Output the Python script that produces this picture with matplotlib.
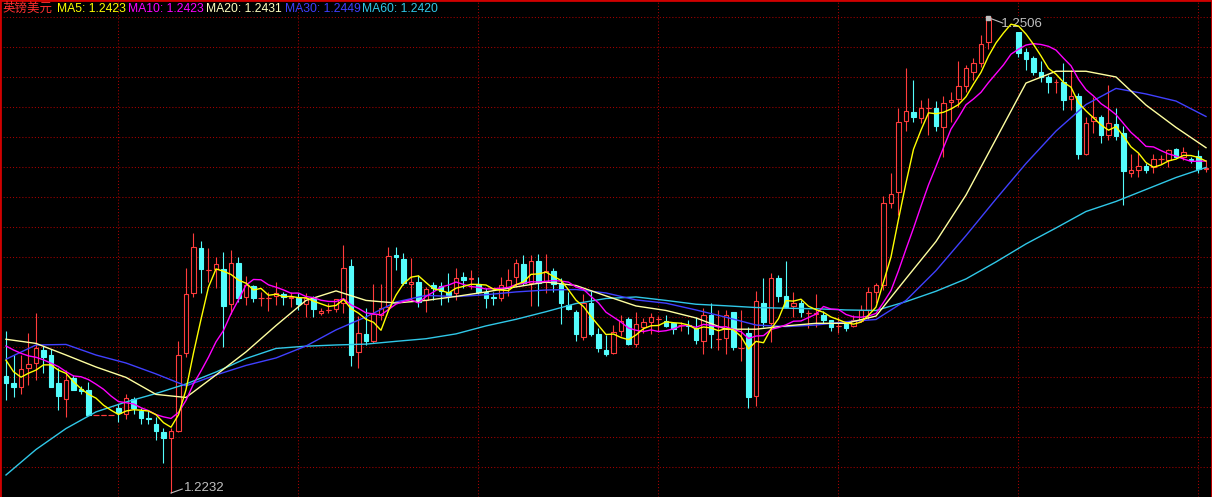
import numpy as np
import pandas as pd
import matplotlib
matplotlib.use('Agg')
import matplotlib.pyplot as plt

# daily GBP/USD candles
opens = [1.22995, 1.22953, 1.22934, 1.23043, 1.23069, 1.23145, 1.23116, 1.22957, 1.22864, 1.22985,
         1.22920, 1.22915, 1.22770, 1.22770, 1.22770, 1.22809, 1.22774, 1.22863, 1.22793, 1.22755,
         1.22718, 1.22674, 1.22636, 1.22680, 1.23126, 1.23472, 1.23732, 1.23607, 1.23611, 1.23612,
         1.23409, 1.23645, 1.23449, 1.23516, 1.23447, 1.23447, 1.23458, 1.23468, 1.23447, 1.23443,
         1.23411, 1.23439, 1.23360, 1.23376, 1.23380, 1.23415, 1.23630, 1.23135, 1.23238, 1.23199,
         1.23347, 1.23392, 1.23693, 1.23668, 1.23526, 1.23539, 1.23434, 1.23520, 1.23516, 1.23478,
         1.23472, 1.23565, 1.23555, 1.23524, 1.23481, 1.23453, 1.23447, 1.23507, 1.23565, 1.23640,
         1.23533, 1.23659, 1.23539, 1.23601, 1.23524, 1.23405, 1.23366, 1.23219, 1.23415, 1.23238,
         1.23145, 1.23126, 1.23257, 1.23324, 1.23178, 1.23280, 1.23308, 1.23322, 1.23313, 1.23303,
         1.23289, 1.23291, 1.23270, 1.23199, 1.23347, 1.23209, 1.23216, 1.23363, 1.23159, 1.23242,
         1.22882, 1.23415, 1.23299, 1.23559, 1.23457, 1.23401, 1.23418, 1.23357, 1.23353, 1.23347,
         1.23318, 1.23285, 1.23299, 1.23285, 1.23314, 1.23376, 1.23481, 1.23520, 1.23995, 1.24058,
         1.24468, 1.24520, 1.24482, 1.24543, 1.24539, 1.24430, 1.24574, 1.24591, 1.24668, 1.24750,
         1.24802, 1.24924, 1.25052, 1.25049, 1.25057, 1.24978, 1.24866, 1.24828, 1.24750, 1.24722,
         1.24691, 1.24693, 1.24591, 1.24610, 1.24276, 1.24468, 1.24491, 1.24385, 1.24449, 1.24395,
         1.24168, 1.24183, 1.24207, 1.24199, 1.24245, 1.24241, 1.24303, 1.24257, 1.24245, 1.24264,
         1.24189]
closes = [1.22957, 1.22934, 1.23034, 1.23063, 1.23158, 1.23107, 1.22934, 1.22880, 1.22972, 1.22915,
          1.22909, 1.22770, 1.22770, 1.22770, 1.22770, 1.22784, 1.22870, 1.22809, 1.22755, 1.22746,
          1.22680, 1.22639, 1.22678, 1.23116, 1.23467, 1.23738, 1.23611, 1.23607, 1.23640, 1.23401,
          1.23645, 1.23447, 1.23520, 1.23443, 1.23447, 1.23447, 1.23476, 1.23449, 1.23453, 1.23409,
          1.23443, 1.23380, 1.23372, 1.23376, 1.23439, 1.23616, 1.23116, 1.23242, 1.23199, 1.23351,
          1.23386, 1.23689, 1.23683, 1.23530, 1.23537, 1.23424, 1.23497, 1.23501, 1.23486, 1.23462,
          1.23562, 1.23549, 1.23561, 1.23481, 1.23447, 1.23443, 1.23520, 1.23549, 1.23649, 1.23530,
          1.23659, 1.23533, 1.23601, 1.23524, 1.23418, 1.23382, 1.23238, 1.23415, 1.23238, 1.23159,
          1.23122, 1.23251, 1.23314, 1.23178, 1.23293, 1.23305, 1.23334, 1.23322, 1.23285, 1.23266,
          1.23289, 1.23284, 1.23203, 1.23347, 1.23238, 1.23209, 1.23347, 1.23164, 1.23159, 1.22876,
          1.23428, 1.23308, 1.23559, 1.23458, 1.23395, 1.23415, 1.23363, 1.23357, 1.23359, 1.23318,
          1.23280, 1.23285, 1.23270, 1.23318, 1.23376, 1.23478, 1.23520, 1.23991, 1.24045, 1.24462,
          1.24526, 1.24491, 1.24543, 1.24543, 1.24437, 1.24568, 1.24587, 1.24668, 1.24770, 1.24799,
          1.24910, 1.25054, 1.25049, 1.25057, 1.25052, 1.24857, 1.24824, 1.24750, 1.24722, 1.24693,
          1.24693, 1.24587, 1.24610, 1.24276, 1.24456, 1.24491, 1.24385, 1.24456, 1.24380, 1.24179,
          1.24183, 1.24207, 1.24183, 1.24245, 1.24245, 1.24299, 1.24260, 1.24289, 1.24241, 1.24188,
          1.24195]
highs = [1.23255, 1.23116, 1.23116, 1.23243, 1.23360, 1.23168, 1.23149, 1.23040, 1.23030, 1.23001,
         1.22938, 1.22962, 1.22770, 1.22770, 1.22770, 1.22834, 1.22890, 1.22876, 1.22809, 1.22793,
         1.22761, 1.22694, 1.22694, 1.23197, 1.23620, 1.23818, 1.23774, 1.23732, 1.23680, 1.23709,
         1.23722, 1.23680, 1.23574, 1.23520, 1.23481, 1.23481, 1.23536, 1.23481, 1.23481, 1.23472,
         1.23476, 1.23458, 1.23386, 1.23415, 1.23439, 1.23751, 1.23670, 1.23343, 1.23389, 1.23524,
         1.23524, 1.23738, 1.23738, 1.23703, 1.23674, 1.23578, 1.23510, 1.23539, 1.23539, 1.23588,
         1.23616, 1.23597, 1.23607, 1.23568, 1.23501, 1.23481, 1.23568, 1.23611, 1.23670, 1.23693,
         1.23693, 1.23697, 1.23697, 1.23620, 1.23559, 1.23478, 1.23376, 1.23467, 1.23491, 1.23270,
         1.23232, 1.23289, 1.23347, 1.23337, 1.23363, 1.23328, 1.23357, 1.23341, 1.23347, 1.23308,
         1.23308, 1.23318, 1.23334, 1.23389, 1.23415, 1.23376, 1.23376, 1.23363, 1.23376, 1.23280,
         1.23486, 1.23562, 1.23588, 1.23578, 1.23659, 1.23478, 1.23434, 1.23376, 1.23467, 1.23370,
         1.23318, 1.23337, 1.23308, 1.23347, 1.23405, 1.23510, 1.23533, 1.24034, 1.24164, 1.24539,
         1.24770, 1.24703, 1.24587, 1.24597, 1.24581, 1.24610, 1.24635, 1.24812, 1.24789, 1.24828,
         1.24962, 1.25060, 1.25058, 1.25059, 1.25059, 1.24995, 1.24885, 1.24841, 1.24812, 1.24731,
         1.24707, 1.24799, 1.24760, 1.24626, 1.24491, 1.24606, 1.24501, 1.24674, 1.24539, 1.24437,
         1.24276, 1.24283, 1.24222, 1.24276, 1.24270, 1.24303, 1.24309, 1.24318, 1.24260, 1.24299,
         1.24235]
lows = [1.22857, 1.22876, 1.22891, 1.22943, 1.22972, 1.23014, 1.22934, 1.22799, 1.22761, 1.22915,
        1.22891, 1.22770, 1.22770, 1.22770, 1.22770, 1.22732, 1.22746, 1.22774, 1.22718, 1.22718,
        1.22626, 1.22492, 1.22320, 1.22674, 1.23107, 1.23453, 1.23472, 1.23539, 1.23501, 1.23161,
        1.23351, 1.23424, 1.23405, 1.23420, 1.23401, 1.23370, 1.23405, 1.23405, 1.23395, 1.23376,
        1.23337, 1.23337, 1.23347, 1.23357, 1.23363, 1.23357, 1.23055, 1.23043, 1.23174, 1.23184,
        1.23318, 1.23376, 1.23607, 1.23520, 1.23434, 1.23395, 1.23366, 1.23434, 1.23405, 1.23424,
        1.23434, 1.23501, 1.23497, 1.23467, 1.23389, 1.23405, 1.23428, 1.23458, 1.23516, 1.23520,
        1.23399, 1.23399, 1.23472, 1.23481, 1.23293, 1.23376, 1.23197, 1.23203, 1.23226, 1.23135,
        1.23112, 1.23120, 1.23226, 1.23174, 1.23163, 1.23242, 1.23238, 1.23251, 1.23280, 1.23238,
        1.23255, 1.23238, 1.23178, 1.23122, 1.23159, 1.23145, 1.23120, 1.23145, 1.23082, 1.22812,
        1.22824, 1.23280, 1.23190, 1.23420, 1.23388, 1.23337, 1.23337, 1.23270, 1.23280, 1.23299,
        1.23255, 1.23245, 1.23257, 1.23280, 1.23307, 1.23324, 1.23415, 1.23491, 1.23963, 1.23924,
        1.24410, 1.24462, 1.24453, 1.24385, 1.24410, 1.24260, 1.24462, 1.24549, 1.24635, 1.24703,
        1.24779, 1.24880, 1.25037, 1.25037, 1.25043, 1.24834, 1.24760, 1.24731, 1.24693, 1.24626,
        1.24626, 1.24530, 1.24530, 1.24245, 1.24270, 1.24399, 1.24341, 1.24356, 1.24356, 1.23982,
        1.24141, 1.24141, 1.24168, 1.24168, 1.24218, 1.24199, 1.24253, 1.24241, 1.24222, 1.24168,
        1.24174]

# first few MA5 / MA10 points (history before the window is not visible)
ma5_head = [1.23086, 1.23020, 1.22988, 1.23011]
ma10_head = [1.23168, 1.23145, 1.23126, 1.23111, 1.23103, 1.23088, 1.23069, 1.23049, 1.23020]

# slow averages read every 4th candle
ma_step = 4
ma20 = [1.23207, 1.23183, 1.23116, 1.23047, 1.22987, 1.22889, 1.22871, 1.23001, 1.23134, 1.23286,
        1.23431, 1.23486, 1.23431, 1.23416, 1.23431, 1.23454, 1.23480, 1.23509, 1.23537, 1.23517,
        1.23457, 1.23399, 1.23373, 1.23330, 1.23265, 1.23265, 1.23284, 1.23299, 1.23299, 1.23341,
        1.23557, 1.23771, 1.24039, 1.24362, 1.24685, 1.24753, 1.24753, 1.24720, 1.24558, 1.24429,
        1.24312]
ma30 = [1.23092, 1.23174, 1.23177, 1.23116, 1.23070, 1.23007, 1.22938, 1.23001, 1.23056, 1.23099,
        1.23168, 1.23261, 1.23336, 1.23422, 1.23460, 1.23453, 1.23464, 1.23480, 1.23491, 1.23494,
        1.23474, 1.23434, 1.23415, 1.23376, 1.23334, 1.23289, 1.23280, 1.23289, 1.23308, 1.23321,
        1.23431, 1.23603, 1.23805, 1.24016, 1.24221, 1.24408, 1.24561, 1.24654, 1.24622, 1.24581,
        1.24492]
ma60 = [1.22424, 1.22571, 1.22692, 1.22788, 1.22845, 1.22894, 1.22949, 1.23018, 1.23096, 1.23154,
        1.23167, 1.23174, 1.23179, 1.23195, 1.23210, 1.23238, 1.23284, 1.23322, 1.23366, 1.23413,
        1.23442, 1.23451, 1.23431, 1.23409, 1.23400, 1.23390, 1.23386, 1.23383, 1.23376, 1.23373,
        1.23424, 1.23484, 1.23555, 1.23653, 1.23757, 1.23849, 1.23944, 1.24002, 1.24071, 1.24140,
        1.24198]

header = [('英镑美元', '#FF3030'),
          ('MA5: 1.2423', '#FFFF00'),
          ('MA10: 1.2423', '#FF00FF'),
          ('MA20: 1.2431', '#FFFFC0'),
          ('MA30: 1.2449', '#4040FF'),
          ('MA60: 1.2420', '#30C8E8')]
header_x = [2, 57, 128, 206, 285, 362]

RED = '#FF3C3C'
CYAN = '#54FCFC'
GRID = '#A80000'

o = np.array(opens)
c = np.array(closes)
h = np.array(highs)
l = np.array(lows)
x = np.arange(len(o))

ma5 = pd.Series(c).rolling(5).mean().values
ma5[:len(ma5_head)] = ma5_head
ma10 = pd.Series(c).rolling(10).mean().values
ma10[:len(ma10_head)] = ma10_head
xs = np.arange(0, len(o), ma_step)

W, H = 1212, 497
fig = plt.figure(figsize=(W/100, H/100), dpi=100, facecolor='black')
ax = fig.add_axes([0, 0, 1, 1])
ax.set_facecolor('black')
ax.set_xlim(-0.8, 160.8)
ax.set_ylim(1.22297, 1.25164)
ax.set_xticks([])
ax.set_yticks([])
for s in ['top', 'left', 'right']:
    ax.spines[s].set_color('#D00000')
    ax.spines[s].set_linewidth(2)
ax.spines['bottom'].set_visible(False)

# dotted grid
ylo, yhi = ax.get_ylim()
for r in range(17, 480, 30):
    ax.axhline(yhi - r/H*(yhi-ylo), color=GRID, lw=0.75, ls=(0, (1, 2)), zorder=1)
for k in range(7):
    ax.axvline(15 + 24*k - 0.05, color=GRID, lw=0.75, ls=(0, (1, 2)), zorder=1)

# candles
up = c >= o
cols = np.where(up, RED, CYAN)
ax.vlines(x, l, h, colors=cols, lw=0.8, zorder=2)
bh = np.abs(c - o)
bb = np.minimum(o, c)
ax.bar(x[up], bh[up], bottom=bb[up], width=0.6, facecolor='black', edgecolor=RED, lw=0.8, zorder=3)
ax.bar(x[~up], bh[~up], bottom=bb[~up], width=0.6, facecolor=CYAN, edgecolor=CYAN, lw=0.8, zorder=3)
doji = bh < 2e-5
ax.hlines(o[doji], x[doji]-0.35, x[doji]+0.35, colors=cols[doji], lw=0.8, zorder=3)

# max / min markers
imax = int(np.argmax(h))
imin = int(np.argmin(l))
dy = (yhi - ylo) / H
ax.text(imax + 0.75, h[imax] - 6*dy, '  %.4f' % h[imax], color='#C0C0C0', fontsize=9.5,
        family='Liberation Sans', ha='left', va='center', zorder=4,
        bbox=dict(boxstyle='square,pad=0.15', fc='black', ec='none'))
ax.plot([imax + 0.3, imax + 1.9], [h[imax] - 0.5*dy, h[imax] - 5*dy], color='#C0C0C0', lw=0.8, zorder=6)
ax.plot([imax], [h[imax]], marker='s', ms=3, color='#C0C0C0', zorder=6)
ax.text(imin + 1.7, l[imin] + 5*dy, '%.4f' % l[imin], color='#C0C0C0', fontsize=9.5,
        family='Liberation Sans', ha='left', va='center', zorder=6)
ax.plot([imin, imin + 1.5], [l[imin], l[imin] + 4*dy], color='#C0C0C0', lw=0.8, zorder=6)

# moving averages
ax.plot(xs, ma60, color='#30C8E8', lw=1, zorder=5)
ax.plot(xs, ma30, color='#4040FF', lw=1, zorder=5)
ax.plot(xs, ma20, color='#FFFFA0', lw=1, zorder=5)
ax.plot(x, ma10, color='#FF00FF', lw=1, zorder=5)
ax.plot(x, ma5, color='#FFFF00', lw=1, zorder=5)

# header line
for (txt, col), px in zip(header, header_x):
    fam = 'Noto Sans CJK SC' if px == 2 else 'Liberation Sans'
    fs = 9 if px == 2 else 8.7
    ax.text(px/W, 1 - 8.5/H, txt, transform=ax.transAxes, color=col, fontsize=fs,
            family=fam, ha='left', va='center', zorder=7)

fig.savefig('out.png', dpi=100, facecolor='black')
